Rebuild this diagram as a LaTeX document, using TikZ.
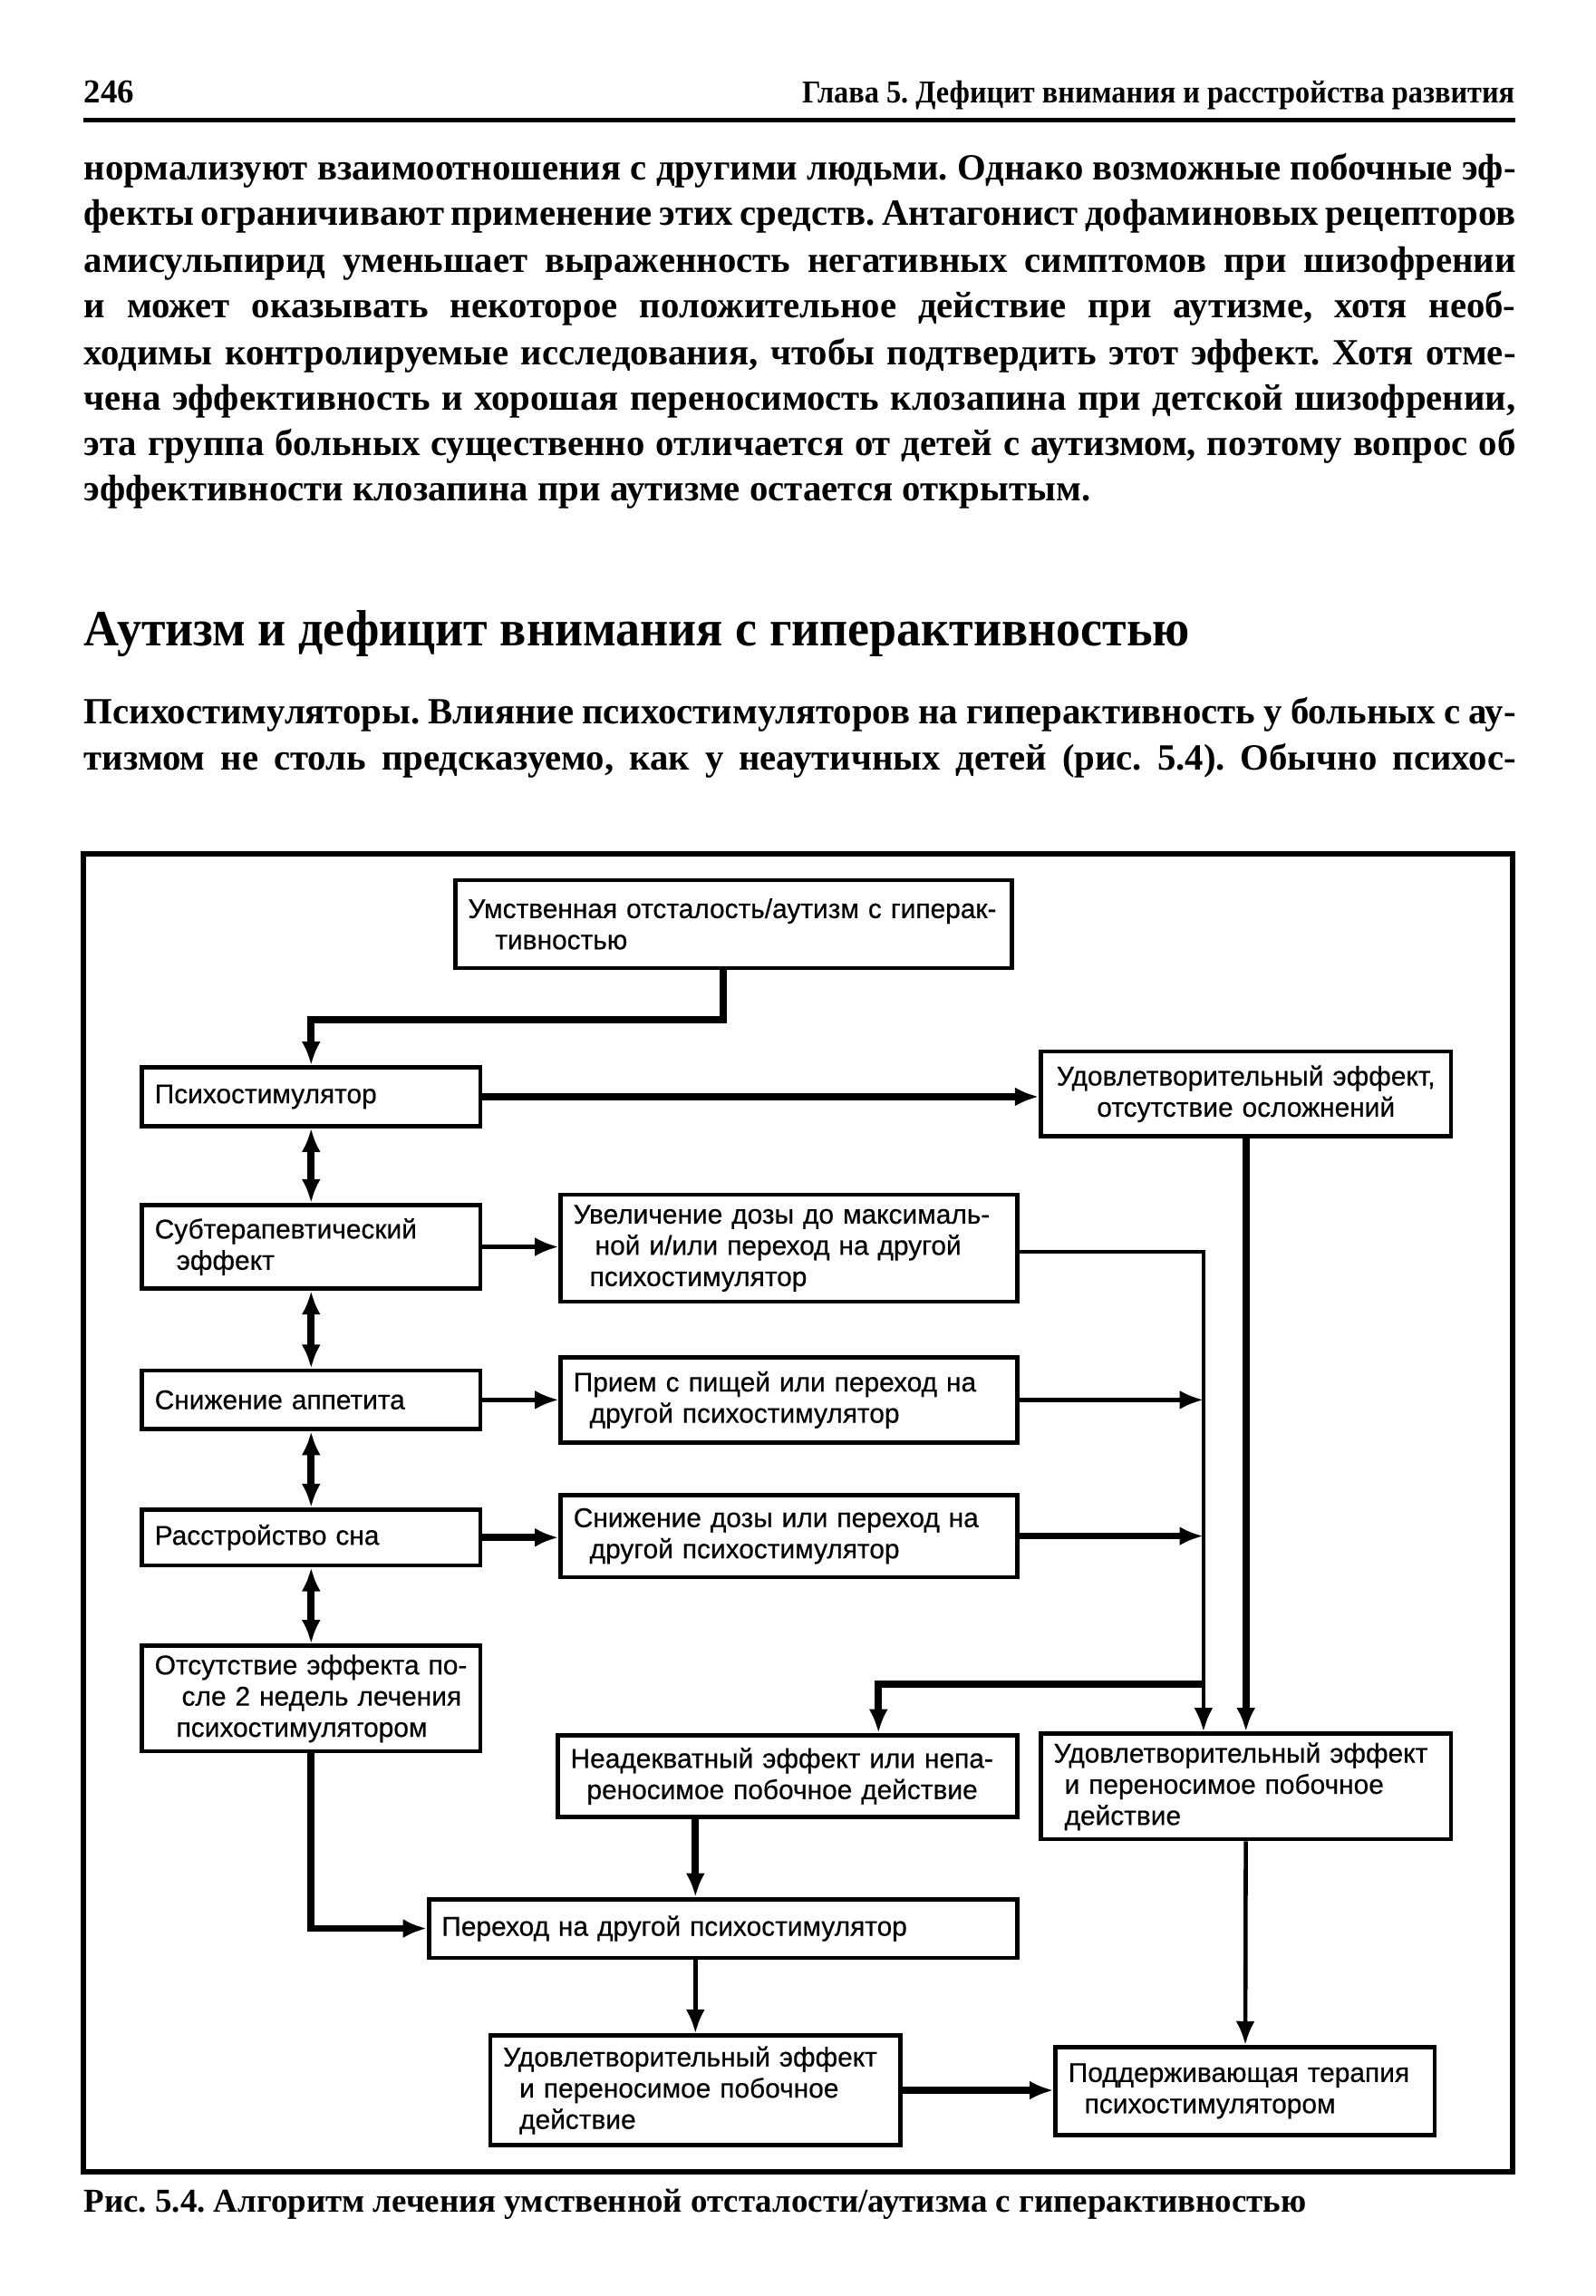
\documentclass[tikz,border=0pt]{standalone}
\usepackage{fontspec}
\setmainfont{Liberation Serif}
\setsansfont{Liberation Sans}[FakeBold=0.5]
\usepackage{tikz}
\usetikzlibrary{arrows.meta,positioning}
\newlength\pxu
\setlength\pxu{0.16156mm}
\frenchspacing

\begin{document}
\begin{tikzpicture}[x=0.16156mm,y=-0.16156mm]
\tikzstyle{stroka}=[anchor=base west,inner sep=0pt,font=\bfseries\fontsize{11.6}{14}\selectfont]
\tikzstyle{strel}=[line width=1.3pt,>={Latex[length=7.5pt,width=6pt]}]
\tikzstyle{tolst}=[strel,line width=2.2pt]
\tikzset{blok/.style 2 args={draw,line width=1.3pt,minimum width=#1*\pxu,minimum height=#2*\pxu,
  text width=#1*\pxu-8pt,inner xsep=4pt,inner ysep=1pt,align=left,
  font=\sffamily\fontsize{8.5}{9.8}\selectfont}}
\useasboundingbox (0,0) rectangle (1090,1568);
% page head
\node[anchor=base west,inner sep=0pt,font=\bfseries\fontsize{10.5}{12}\selectfont] (str) at (57,70) {246};
\node[anchor=base east,inner sep=0pt,font=\bfseries\fontsize{10}{12}\selectfont] (gl) at (1035,70) {\scalebox{0.92}[1]{Глава 5. Дефицит внимания и расстройства развития}};
\draw[line width=1.2pt] (57,82) -- (1035,82);
% text
\node[stroka] (s1) at (57,123) {\makebox[978\pxu][s]{нормализуют взаимоотношения с другими людьми. Однако возможные побочные эф-}};
\node[stroka] (s2) at (57,154) {\makebox[978\pxu][s]{фекты ограничивают применение этих средств. Антагонист дофаминовых рецепторов}};
\node[stroka] (s3) at (57,186) {\makebox[978\pxu][s]{амисульпирид уменьшает выраженность негативных симптомов при шизофрении}};
\node[stroka] (s4) at (57,217) {\makebox[978\pxu][s]{и может оказывать некоторое положительное действие при аутизме, хотя необ-}};
\node[stroka] (s5) at (57,249) {\makebox[978\pxu][s]{ходимы контролируемые исследования, чтобы подтвердить этот эффект. Хотя отме-}};
\node[stroka] (s6) at (57,280) {\makebox[978\pxu][s]{чена эффективность и хорошая переносимость клозапина при детской шизофрении,}};
\node[stroka] (s7) at (57,311) {\makebox[978\pxu][s]{эта группа больных существенно отличается от детей с аутизмом, поэтому вопрос об}};
\node[stroka] (s8) at (57,342) {эффективности клозапина при аутизме остается открытым.};
\node[anchor=base west,inner sep=0pt,font=\bfseries\fontsize{16}{18}\selectfont] (zag) at (57,441) {\scalebox{0.96}[1]{Аутизм и дефицит внимания с гиперактивностью}};
\node[stroka] (p1) at (57,494) {\makebox[978\pxu][s]{Психостимуляторы. Влияние психостимуляторов на гиперактивность у больных с ау-}};
\node[stroka] (p2) at (57,526) {\makebox[978\pxu][s]{тизмом не столь предсказуемо, как у неаутичных детей (рис. 5.4). Обычно психос-}};
% frame
\draw[line width=1.6pt] (57,583) rectangle (1033,1483);
% boxes
\node[blok={380}{60}] (a1) at (501,631) {\mbox{Умственная отсталость/аутизм с гиперак-}\\\hspace*{1em}тивностью};
\node[blok={231}{40}] (psi) at (212.5,749) {Психостимулятор};
\node[blok={280}{58},align=center] (udov1) at (851,747) {Удовлетворительный эффект,\\отсутствие осложнений};
\node[blok={231}{57}] (subt) at (212.5,851.5) {Субтерапевтический\\\hspace*{0.8em}эффект};
\node[blok={312}{73}] (uvel) at (539,852.5) {Увеличение дозы до максималь-\\\hspace*{0.8em}ной и/или переход на другой\\\hspace*{0.6em}психостимулятор};
\node[blok={231}{40}] (snap) at (212.5,956) {Снижение аппетита};
\node[blok={312}{58}] (priem) at (539,956) {Прием с пищей или переход на\\\hspace*{0.6em}другой психостимулятор};
\node[blok={231}{38}] (rasst) at (212.5,1050) {Расстройство сна};
\node[blok={312}{56}] (snidoz) at (539,1049) {Снижение дозы или переход на\\\hspace*{0.6em}другой психостимулятор};
\node[blok={231}{72}] (otsut) at (212.5,1160) {\mbox{Отсутствие эффекта по-}\\\hspace*{1em}\mbox{сле 2 недель лечения}\\\hspace*{0.8em}психостимулятором};
\node[blok={314}{56}] (neadek) at (538,1213) {\mbox{Неадекватный эффект или непа-}\\\hspace*{0.6em}реносимое побочное действие};
\node[blok={280}{72}] (udov2) at (851,1220) {Удовлетворительный эффект\\\hspace*{0.4em}и переносимое побочное\\\hspace*{0.4em}действие};
\node[blok={402}{40}] (perehod) at (494,1317) {Переход на другой психостимулятор};
\node[blok={280}{75}] (udov3) at (475,1427.5) {Удовлетворительный эффект\\\hspace*{0.6em}и переносимое побочное\\\hspace*{0.6em}действие};
\node[blok={259}{60}] (podd) at (850.5,1428) {Поддерживающая терапия\\\hspace*{0.6em}психостимулятором};
% trunk
\coordinate (tr) at (822,855);
\coordinate (ox) at (600,1150);
% connectors
\draw[tolst,->] (a1.south -| 494,0) -- ++(0,34) -| (psi.north);
\draw[tolst,->] (psi.east) -- (udov1.west |- psi.east);
\draw[tolst,<->] (psi) -- (subt);
\draw[tolst,<->] (subt) -- (snap);
\draw[tolst,<->] (snap) -- (rasst);
\draw[tolst,<->] (rasst) -- (otsut);
\draw[strel,->] (subt.east) -- (uvel.west |- subt.east);
\draw[strel,->] (snap.east) -- (priem.west |- snap.east);
\draw[tolst,->] (rasst.east) -- (snidoz.west |- rasst.east);
\draw[strel,->] (uvel.east |- tr) -- (tr) -- (tr |- udov2.north);
\draw[strel,->] (priem.east) -- (tr |- priem.east);
\draw[tolst,->] (snidoz.east) -- (tr |- snidoz.east);
\draw[tolst,->] (tr |- ox) -- (ox) -- (ox |- neadek.north);
\draw[tolst,->] (udov1) -- (udov2);
\draw[tolst,->] (otsut.south) |- (perehod.west);
\draw[tolst,->] (neadek.south -| udov3) -- (perehod.north -| udov3);
\draw[strel,->] (perehod.south -| udov3) -- (udov3.north);
\draw[strel,->] (udov2) -- (podd);
\draw[tolst,->] (udov3.east) -- (podd.west |- udov3.east);
% caption
\node[anchor=base west,inner sep=0pt,font=\bfseries\fontsize{10.5}{13}\selectfont] (pod) at (57,1511) {Рис. 5.4. Алгоритм лечения умственной отсталости/аутизма с гиперактивностью};
\end{tikzpicture}
\end{document}
